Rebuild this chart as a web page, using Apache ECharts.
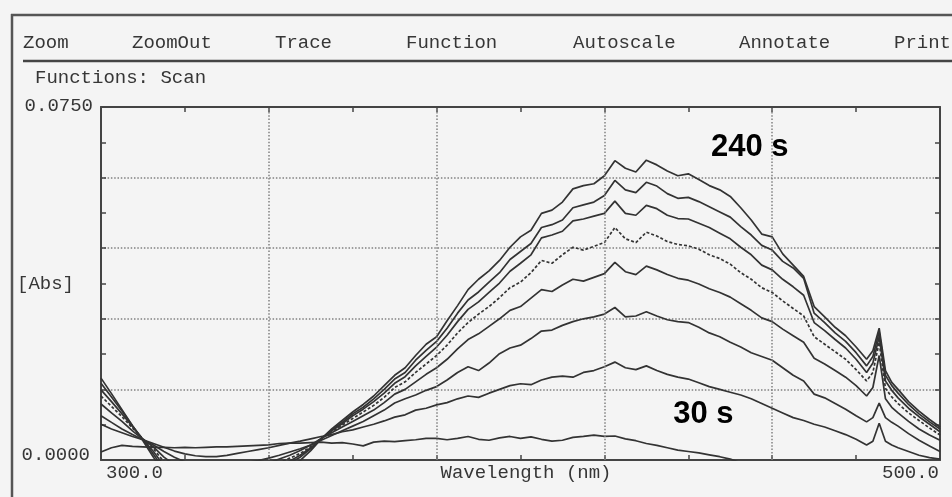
<!DOCTYPE html>
<html>
<head>
<meta charset="utf-8">
<title>Scan</title>
<script src="https://cdn.jsdelivr.net/npm/echarts@6/dist/echarts.min.js"></script>
<style>
  html, body { margin: 0; padding: 0; background: #f4f4f4; }
  #chart { width: 952px; height: 497px; }
</style>
</head>
<body>
<div id="chart"></div>
<script>
// Scan wavelengths (nm); finer steps around the 485 nm spike
const wavelengths = [300,302.5,305,307.5,310,312.5,315,317.5,320,322.5,
  325,327.5,330,332.5,335,337.5,340,342.5,345,347.5,
  350,352.5,355,357.5,360,362.5,365,367.5,370,372.5,
  375,377.5,380,382.5,385,387.5,390,392.5,395,397.5,
  400,402.5,405,407.5,410,412.5,415,417.5,420,422.5,
  425,427.5,430,432.5,435,437.5,440,442.5,445,447.5,
  450,452.5,455,457.5,460,462.5,465,467.5,470,472.5,
  475,477.5,480,482.5,484,485.5,487,488.5,490,492.5,
  495,497.5,500];

// Absorbance traces, one per scan time
const abs240 = [0.0174,0.0141,0.0107,0.0073,0.0041,0.0006,-0.0030,-0.0060,-0.0080,-0.0090,
  -0.0095,-0.0095,-0.0088,-0.0078,-0.0064,-0.0048,-0.0035,-0.0022,-0.0010,-0.0001,
  0.0020,0.0045,0.0066,0.0084,0.0102,0.0118,0.0136,0.0158,0.0180,0.0196,
  0.0222,0.0246,0.0262,0.0296,0.0328,0.0362,0.0384,0.0402,0.0424,0.0452,
  0.0474,0.0488,0.0524,0.0531,0.0548,0.0576,0.0583,0.0587,0.0604,0.0636,
  0.0620,0.0612,0.0637,0.0627,0.0614,0.0604,0.0608,0.0596,0.0583,0.0574,
  0.0560,0.0536,0.0510,0.0480,0.0474,0.0438,0.0414,0.0390,0.0326,0.0304,
  0.0282,0.0264,0.0240,0.0214,0.0232,0.0280,0.0190,0.0165,0.0150,0.0124,
  0.0104,0.0086,0.0070];
const abs210 = [0.0163,0.0134,0.0104,0.0073,0.0043,0.0012,-0.0020,-0.0045,-0.0065,-0.0075,
  -0.0080,-0.0080,-0.0074,-0.0064,-0.0052,-0.0040,-0.0028,-0.0017,-0.0006,0.0006,
  0.0024,0.0045,0.0064,0.0080,0.0098,0.0112,0.0130,0.0150,0.0172,0.0186,
  0.0212,0.0233,0.0252,0.0280,0.0312,0.0340,0.0357,0.0378,0.0398,0.0426,
  0.0443,0.0460,0.0494,0.0500,0.0510,0.0536,0.0542,0.0548,0.0562,0.0594,
  0.0574,0.0568,0.0590,0.0582,0.0566,0.0556,0.0558,0.0549,0.0538,0.0527,
  0.0516,0.0496,0.0478,0.0456,0.0446,0.0422,0.0408,0.0386,0.0312,0.0292,
  0.0270,0.0252,0.0228,0.0200,0.0220,0.0272,0.0180,0.0158,0.0142,0.0118,
  0.0098,0.0081,0.0066];
const abs180 = [0.0149,0.0124,0.0098,0.0071,0.0044,0.0018,-0.0012,-0.0035,-0.0052,-0.0062,
  -0.0066,-0.0066,-0.0060,-0.0052,-0.0042,-0.0032,-0.0022,-0.0012,-0.0002,0.0010,
  0.0026,0.0046,0.0062,0.0077,0.0094,0.0108,0.0124,0.0142,0.0163,0.0177,
  0.0200,0.0220,0.0240,0.0265,0.0294,0.0320,0.0336,0.0356,0.0376,0.0401,
  0.0418,0.0436,0.0472,0.0478,0.0486,0.0508,0.0512,0.0518,0.0524,0.0550,
  0.0524,0.0520,0.0541,0.0534,0.0520,0.0513,0.0512,0.0503,0.0494,0.0482,
  0.0470,0.0452,0.0436,0.0414,0.0404,0.0384,0.0368,0.0350,0.0292,0.0275,
  0.0256,0.0238,0.0214,0.0186,0.0206,0.0262,0.0168,0.0148,0.0132,0.0110,
  0.0092,0.0076,0.0060];
const abs150 = [0.0136,0.0114,0.0092,0.0068,0.0045,0.0024,-0.0004,-0.0022,-0.0036,-0.0046,
  -0.0050,-0.0050,-0.0046,-0.0040,-0.0032,-0.0024,-0.0015,-0.0006,0.0004,0.0014,
  0.0028,0.0046,0.0060,0.0074,0.0088,0.0102,0.0116,0.0133,0.0154,0.0166,
  0.0186,0.0204,0.0222,0.0244,0.0270,0.0292,0.0310,0.0326,0.0345,0.0366,
  0.0378,0.0398,0.0424,0.0418,0.0436,0.0452,0.0446,0.0454,0.0462,0.0494,
  0.0470,0.0462,0.0484,0.0476,0.0464,0.0458,0.0455,0.0448,0.0436,0.0428,
  0.0416,0.0398,0.0384,0.0366,0.0356,0.0338,0.0322,0.0306,0.0262,0.0246,
  0.0230,0.0214,0.0192,0.0168,0.0186,0.0250,0.0152,0.0134,0.0120,0.0100,
  0.0084,0.0068,0.0053];
const abs120 = [0.0119,0.0100,0.0082,0.0062,0.0044,0.0028,0.0006,-0.0010,-0.0022,-0.0030,
  -0.0034,-0.0034,-0.0031,-0.0026,-0.0020,-0.0013,-0.0006,0.0002,0.0010,0.0020,
  0.0032,0.0046,0.0058,0.0070,0.0082,0.0094,0.0106,0.0122,0.0140,0.0150,
  0.0166,0.0182,0.0196,0.0214,0.0236,0.0256,0.0268,0.0284,0.0300,0.0318,
  0.0326,0.0344,0.0362,0.0358,0.0372,0.0384,0.0380,0.0388,0.0396,0.0420,
  0.0400,0.0394,0.0412,0.0404,0.0394,0.0386,0.0382,0.0374,0.0364,0.0356,
  0.0346,0.0332,0.0318,0.0302,0.0294,0.0278,0.0264,0.0250,0.0216,0.0204,
  0.0190,0.0176,0.0158,0.0136,0.0154,0.0222,0.0130,0.0112,0.0100,0.0082,
  0.0066,0.0053,0.0042];
const abs90 = [0.0094,0.0080,0.0066,0.0054,0.0043,0.0032,0.0018,0.0006,-0.0004,-0.0010,
  -0.0013,-0.0014,-0.0012,-0.0009,-0.0005,-0.0001,0.0004,0.0010,0.0017,0.0024,
  0.0032,0.0042,0.0052,0.0062,0.0072,0.0082,0.0094,0.0106,0.0121,0.0130,
  0.0138,0.0148,0.0156,0.0170,0.0186,0.0198,0.0190,0.0206,0.0226,0.0238,
  0.0244,0.0258,0.0274,0.0276,0.0286,0.0294,0.0300,0.0304,0.0310,0.0324,
  0.0304,0.0306,0.0315,0.0306,0.0298,0.0294,0.0292,0.0282,0.0270,0.0262,
  0.0250,0.0240,0.0228,0.0220,0.0212,0.0196,0.0180,0.0168,0.0140,0.0132,
  0.0120,0.0108,0.0094,0.0081,0.0090,0.0121,0.0090,0.0080,0.0072,0.0056,
  0.0042,0.0030,0.0018];
const abs60 = [0.0076,0.0066,0.0058,0.0050,0.0043,0.0035,0.0027,0.0019,0.0013,0.0009,
  0.0007,0.0007,0.0010,0.0014,0.0018,0.0022,0.0026,0.0031,0.0036,0.0040,
  0.0045,0.0050,0.0054,0.0060,0.0064,0.0070,0.0076,0.0083,0.0091,0.0096,
  0.0106,0.0110,0.0117,0.0122,0.0130,0.0136,0.0133,0.0142,0.0150,0.0158,
  0.0162,0.0160,0.0170,0.0176,0.0178,0.0176,0.0186,0.0190,0.0198,0.0208,
  0.0196,0.0192,0.0200,0.0190,0.0182,0.0176,0.0172,0.0164,0.0156,0.0150,
  0.0144,0.0138,0.0130,0.0120,0.0110,0.0100,0.0090,0.0084,0.0076,0.0070,
  0.0062,0.0054,0.0044,0.0032,0.0040,0.0078,0.0040,0.0032,0.0026,0.0018,
  0.0010,0.0005,0.0002];
const abs30 = [0.0017,0.0026,0.0031,0.0029,0.0028,0.0027,0.0027,0.0026,0.0027,0.0026,
  0.0027,0.0028,0.0028,0.0029,0.0030,0.0031,0.0032,0.0035,0.0036,0.0036,
  0.0037,0.0038,0.0036,0.0037,0.0034,0.0030,0.0038,0.0040,0.0039,0.0041,
  0.0043,0.0046,0.0046,0.0043,0.0046,0.0050,0.0044,0.0042,0.0047,0.0050,
  0.0046,0.0049,0.0044,0.0040,0.0042,0.0048,0.0050,0.0053,0.0050,0.0051,
  0.0045,0.0041,0.0035,0.0031,0.0026,0.0021,0.0018,0.0015,0.0011,0.0007,
  0.0002,-0.0006,-0.0014,-0.0020,-0.0025,-0.0028,-0.0030,-0.0030,-0.0030,-0.0030,
  -0.0030,-0.0030,-0.0030,-0.0030,-0.0030,-0.0030,-0.0030,-0.0030,-0.0030,-0.0030,
  -0.0030,-0.0030,-0.0030];

const scanTimes = ['240 s', '210 s', '180 s', '150 s', '120 s', '90 s', '60 s', '30 s'];
const scanTraces = [abs240, abs210, abs180, abs150, abs120, abs90, abs60, abs30];
const dashedScan = '150 s';

// Axis ranges, grid lines and tick labels
const xMin = 300, xMax = 500, xTickStep = 20;
const xGridValues = [340, 380, 420, 460];
const xTickValues = [300, 500];
const xTickLabels = ['300.0', '500.0'];
const yMin = 0, yMax = 0.075, yGridStep = 0.015;
const yTickValues = [0, 0.075];
const yTickLabels = ['0.0000', '0.0750'];

// Window texts
const menuItems = ['Zoom', 'ZoomOut', 'Trace', 'Function', 'Autoscale', 'Annotate', 'Print'];
const statusText = 'Functions: Scan';
const xAxisTitle = 'Wavelength (nm)';
const yAxisTitle = '[Abs]';
const traceNotes = ['240 s', '30 s'];

// ---- layout & styles ----
const ink = '#363636';
const frameInk = '#444';
const mono = '"Liberation Mono", "DejaVu Sans Mono", monospace';
const monoSize = 19;
const menuLeft = [23, 132, 275, 406, 573, 739, 894];
// anchor (wavelength, absorbance) of the left/middle of each note
const noteAnchors = [[445.4, 0.0665], [436.4, 0.0096]];

const chart = echarts.init(document.getElementById('chart'), null, { renderer: 'canvas' });

const tickLine = { color: frameInk, width: 1.5 };
const frameLine = { show: true, onZero: false, lineStyle: { color: frameInk, width: 2 } };

const series = scanTimes.map((name, i) => {
  const s = {
    name: name,
    type: 'line',
    data: wavelengths.map((w, k) => [w, scanTraces[i][k]]),
    symbol: 'none',
    clip: true,
    silent: true,
    lineStyle: {
      color: '#333',
      width: 1.7,
      type: name === dashedScan ? [3, 2] : 'solid'
    },
    z: 3
  };
  if (i === 0) {
    s.markLine = {
      silent: true,
      symbol: 'none',
      animation: false,
      label: { show: false },
      lineStyle: { color: '#808080', width: 1.5, type: [1.5, 1.8] },
      data: xGridValues.map(v => ({ xAxis: v }))
    };
  }
  return s;
});

const option = {
  animation: false,
  backgroundColor: '#f4f4f4',
  grid: { left: 101, top: 107, width: 839, height: 353, outerBoundsMode: 'none', containLabel: false },
  xAxis: [
    {
      type: 'value', position: 'bottom', min: xMin, max: xMax, interval: xTickStep,
      axisLine: frameLine,
      axisTick: { show: true, inside: true, length: 5, lineStyle: tickLine },
      axisLabel: { show: false },
      splitLine: { show: false }
    },
    {
      type: 'value', position: 'top', min: xMin, max: xMax, interval: xTickStep,
      axisLine: frameLine,
      axisTick: { show: true, inside: true, length: 5, lineStyle: tickLine },
      axisLabel: { show: false },
      splitLine: { show: false }
    }
  ],
  yAxis: [
    {
      type: 'value', position: 'left', min: yMin, max: yMax, interval: yGridStep,
      axisLine: frameLine,
      axisTick: { show: true, inside: true, length: 5, lineStyle: tickLine },
      minorTick: { show: true, splitNumber: 2, length: 5, lineStyle: tickLine },
      axisLabel: { show: false },
      splitLine: { show: true, lineStyle: { color: '#808080', width: 1.5, type: [1.5, 1.8] } }
    },
    {
      type: 'value', position: 'right', min: yMin, max: yMax, interval: yGridStep,
      axisLine: frameLine,
      axisTick: { show: true, inside: true, length: 5, lineStyle: tickLine },
      minorTick: { show: true, splitNumber: 2, length: 5, lineStyle: tickLine },
      axisLabel: { show: false },
      splitLine: { show: false }
    }
  ],
  series: series
};

chart.setOption(option);

// ---- window chrome and texts placed from the axes ----
const toPx = (x, y) => chart.convertToPixel({ gridIndex: 0 }, [x, y]);
const monoText = (text, x, y, align) => ({
  type: 'text', silent: true, z: 10,
  style: { text: text, x: x, y: y, align: align, verticalAlign: 'middle',
           fill: ink, fontFamily: mono, fontSize: monoSize }
});
const hLine = (x1, x2, y, w, c) => ({
  type: 'line', silent: true, z: 10,
  shape: { x1: x1, y1: y, x2: x2, y2: y }, style: { stroke: c, lineWidth: w }
});
const vLine = (x, y1, y2, w, c) => ({
  type: 'line', silent: true, z: 10,
  shape: { x1: x, y1: y1, x2: x, y2: y2 }, style: { stroke: c, lineWidth: w }
});

const graphics = [];
// window border and menu separator
graphics.push(hLine(11, 952, 15, 2.5, '#555'));
graphics.push(vLine(12, 14, 497, 2.5, '#555'));
graphics.push(hLine(23, 952, 61, 2.5, '#444'));
// menu bar and status line
menuItems.forEach((m, i) => graphics.push(monoText(m, menuLeft[i], 43, 'left')));
graphics.push(monoText(statusText, 35, 78, 'left'));

// axis end labels
const pLeftBottom = toPx(xTickValues[0], yTickValues[0]);
const pRightTop = toPx(xTickValues[1], yTickValues[1]);
graphics.push(monoText(xTickLabels[0], pLeftBottom[0] + 5, pLeftBottom[1] + 13, 'left'));
graphics.push(monoText(xTickLabels[1], pRightTop[0] - 1, pLeftBottom[1] + 13, 'right'));
graphics.push(monoText(yTickLabels[0], pLeftBottom[0] - 11, pLeftBottom[1] - 5, 'right'));
graphics.push(monoText(yTickLabels[1], pLeftBottom[0] - 8, pRightTop[1] - 1, 'right'));

// axis titles
graphics.push(monoText(xAxisTitle, 526, pLeftBottom[1] + 13, 'center'));
graphics.push(monoText(yAxisTitle, 17, (pLeftBottom[1] + pRightTop[1]) / 2, 'left'));

// trace notes
traceNotes.forEach((t, i) => {
  const p = toPx(noteAnchors[i][0], noteAnchors[i][1]);
  graphics.push({
    type: 'text', silent: true, z: 11,
    style: { text: t, x: p[0], y: p[1], align: 'left', verticalAlign: 'middle',
             fill: '#000', fontFamily: '"Liberation Sans", Arial, sans-serif',
             fontWeight: 'bold', fontSize: 31 }
  });
});

chart.setOption({ graphic: { elements: graphics } });
</script>
</body>
</html>
